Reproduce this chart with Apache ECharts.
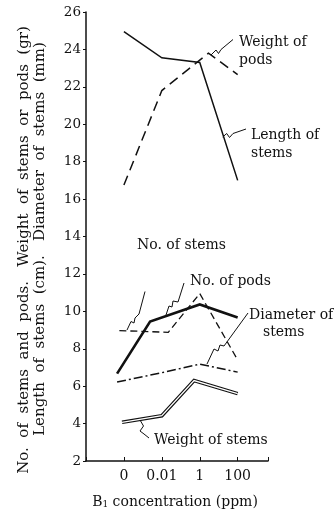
<!DOCTYPE html>
<html><head><meta charset="utf-8">
<script src="https://cdn.jsdelivr.net/npm/echarts@6/dist/echarts.min.js"></script>
<style>html,body{margin:0;padding:0;background:#fff}#c{width:334px;height:514px}</style>
</head><body><div id="c"></div>
<script>
// Tick labels of the concentration axis (B1, ppm)
const categories = ['0', '0.01', '1', '100'];
// Y range / ticks
const yMin = 2, yMax = 26, yStep = 2;

// Positions along the concentration axis (in category units, as drawn) and values
const lengthStemsPos = [0, 1, 2, 3];
const lengthStems   = [24.95, 23.55, 23.3, 17.0];
const weightPodsPos = [0, 1, 2.23, 3];
const weightPods    = [16.75, 21.8, 23.8, 22.65];
const noStemsPos    = [-0.12, 1.17, 2, 3];
const noStems       = [8.97, 8.88, 10.95, 7.4];
const noPodsPos     = [-0.18, 0.69, 2, 3];
const noPods        = [6.67, 9.45, 10.37, 9.67];
const diamStemsPos  = [-0.18, 1, 2, 3];
const diamStems     = [6.22, 6.72, 7.18, 6.75];
const weightStemsPos= [-0.05, 1, 1.85, 3];
const weightStems   = [4.07, 4.42, 6.3, 5.6];

const F = 'DejaVu Serif';
const INK = '#111';
const pairs = (xs, ys) => xs.map((x, i) => [x, ys[i]]);
function line(name, xs, ys, ls, z) {
  return { name, type: 'line', data: pairs(xs, ys), symbol: 'none', silent: true,
    lineStyle: Object.assign({ color: INK, width: 1.4, cap: 'butt', join: 'miter' }, ls), z: z || 2 };
}
const chart = echarts.init(document.getElementById('c'), null, { renderer: 'canvas' });

function txt(x, y, s, opt) {
  return Object.assign({ type: 'text', x, y, silent: true,
    style: { text: s, fill: INK, font: '14px "' + F + '"', textAlign: 'left', textVerticalAlign: 'middle' } }, opt || {});
}
function leader(pts) {
  return { type: 'polyline', silent: true, shape: { points: pts },
    style: { stroke: INK, lineWidth: 1, fill: null } };
}

chart.setOption({
  animation: false,
  backgroundColor: '#fff',
  grid: { left: 86, right: 66, top: 12, bottom: 53 },
  xAxis: {
    type: 'value', min: -1, max: 3.8, interval: 1,
    axisLine: { show: true, onZero: false, lineStyle: { color: INK, width: 1.5 } },
    axisTick: { show: true, inside: true, length: 4, lineStyle: { color: INK } },
    splitLine: { show: false },
    axisLabel: { margin: 8, color: INK, fontSize: 14, fontFamily: F,
      formatter: v => (Number.isInteger(v) && v >= 0 && v < categories.length) ? categories[v] : '' }
  },
  yAxis: {
    type: 'value', min: yMin, max: yMax, interval: yStep,
    axisLine: { show: true, onZero: false, lineStyle: { color: INK, width: 1.5 } },
    axisTick: { show: true, length: 3, lineStyle: { color: INK } },
    splitLine: { show: false },
    axisLabel: { margin: 5, color: INK, fontSize: 13.5, fontFamily: F }
  },
  series: [
    line('Length of stems', lengthStemsPos, lengthStems, { width: 1.5 }),
    line('Weight of pods', weightPodsPos, weightPods, { width: 1.5, type: [10, 6] }),
    line('No. of stems', noStemsPos, noStems, { width: 1.3, type: [7, 4] }),
    line('No. of pods', noPodsPos, noPods, { width: 2.6 }),
    line('Diameter of stems', diamStemsPos, diamStems, { width: 1.5, type: [9, 3, 2, 3] }),
    line('Weight of stems', weightStemsPos, weightStems, { width: 3.6 }, 3),
    line('Weight of stems (inner)', weightStemsPos, weightStems, { width: 1.3, color: '#fff' }, 4)
  ],
  graphic: [
    // y-axis titles (rotated)
    { type: 'text', x: 24.5, y: 250, rotation: Math.PI / 2, silent: true,
      style: { text: 'No.  of  stems  and  pods.   Weight  of  stems  or  pods  (gr)', fill: INK,
        font: '15px "' + F + '"', textAlign: 'center', textVerticalAlign: 'middle' } },
    { type: 'text', x: 40, y: 239, rotation: Math.PI / 2, silent: true,
      style: { text: 'Length  of  stems  (cm).   Diameter  of  stems  (mm)', fill: INK,
        font: '15px "' + F + '"', textAlign: 'center', textVerticalAlign: 'middle' } },
    // x-axis title
    { type: 'text', x: 175, y: 502, silent: true,
      style: { text: '{a|B}{s|1}{a| concentration (ppm)}', fill: INK, textAlign: 'center', textVerticalAlign: 'middle',
        rich: { a: { fontFamily: F, fontSize: 14, fill: INK }, s: { fontFamily: F, fontSize: 9, fill: INK, padding: [6, 0, 0, 0] } } } },
    // annotation labels
    txt(239, 42, 'Weight of'), txt(239, 60, 'pods'),
    txt(251, 135, 'Length of'), txt(251, 153, 'stems'),
    txt(137, 245, 'No. of stems'),
    txt(190, 281, 'No. of pods'),
    txt(249, 315, 'Diameter of'), txt(263, 332, 'stems'),
    txt(154, 440, 'Weight of stems'),
    // leader lines with break marks
    leader([[211, 55], [216, 50], [218.5, 53.5], [221, 49.5], [233, 39.5]]),
    leader([[222.7, 137], [226.7, 133.5], [229.5, 137.5], [233, 133.5], [246, 129]]),
    leader([[145, 291.5], [139, 314], [135, 318], [134, 323], [131, 321.5], [127, 330]]),
    leader([[184, 283], [178, 302], [173, 301], [172, 307], [169, 306], [166, 315]]),
    leader([[248, 313], [224, 346], [220, 345], [218, 351], [214, 349], [207, 364]]),
    leader([[140, 420], [143.5, 426], [140, 431], [144, 434], [149, 438]])
  ]
});
</script></body></html>
